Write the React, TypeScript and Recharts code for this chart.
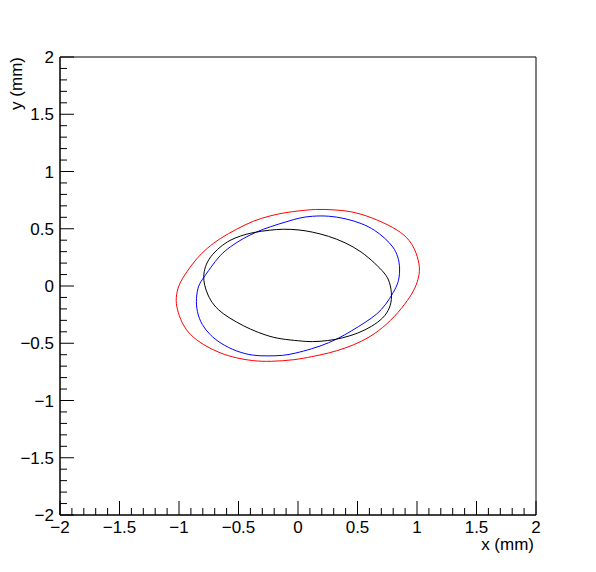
import React from 'react';
import { ComposedChart, Line, XAxis, YAxis, ReferenceArea } from 'recharts';

// ellipse contours, in mm (x, y)
const redEllipse: [number, number][] = [
  [-1.028, -0.107], [-1.006, 0.009], [-0.935, 0.125], [-0.851, 0.242], [-0.767, 0.329],
  [-0.655, 0.417], [-0.515, 0.498], [-0.376, 0.57], [-0.235, 0.614], [-0.095, 0.644],
  [0.003, 0.655], [0.143, 0.672], [0.311, 0.666], [0.479, 0.649], [0.675, 0.576],
  [0.843, 0.489], [0.941, 0.402], [0.997, 0.286], [1.025, 0.169], [1.017, 0.081],
  [0.985, -0.02], [0.927, -0.12], [0.815, -0.268], [0.675, -0.399], [0.535, -0.486],
  [0.395, -0.544], [0.255, -0.588], [0.115, -0.617], [-0.025, -0.646], [-0.235, -0.661],
  [-0.376, -0.655], [-0.515, -0.631], [-0.655, -0.588], [-0.796, -0.515], [-0.908, -0.428],
  [-0.977, -0.326], [-1.019, -0.195],
];

const blueEllipse: [number, number][] = [
  [-0.857, -0.107], [-0.838, 0.009], [-0.796, 0.067], [-0.739, 0.155], [-0.655, 0.271],
  [-0.571, 0.343], [-0.46, 0.417], [-0.347, 0.474], [-0.235, 0.518], [-0.095, 0.562],
  [0.017, 0.597], [0.115, 0.611], [0.255, 0.614], [0.395, 0.591], [0.535, 0.548],
  [0.647, 0.489], [0.731, 0.417], [0.801, 0.343], [0.843, 0.256], [0.857, 0.155],
  [0.851, 0.067], [0.829, -0.006], [0.773, -0.107], [0.703, -0.21], [0.619, -0.282],
  [0.507, -0.355], [0.395, -0.428], [0.255, -0.5], [0.115, -0.55], [-0.025, -0.588],
  [-0.124, -0.609], [-0.263, -0.611], [-0.376, -0.609], [-0.515, -0.574], [-0.655, -0.5],
  [-0.739, -0.428], [-0.809, -0.341], [-0.851, -0.224],
];

const blackEllipse: [number, number][] = [
  [-0.787, 0.009], [-0.796, 0.081], [-0.782, 0.169], [-0.739, 0.256], [-0.655, 0.343],
  [-0.571, 0.402], [-0.487, 0.437], [-0.376, 0.469], [-0.235, 0.489], [-0.124, 0.498],
  [0.003, 0.492], [0.115, 0.474], [0.255, 0.437], [0.395, 0.382], [0.535, 0.3],
  [0.647, 0.198], [0.731, 0.111], [0.773, 0.038], [0.792, -0.093], [0.773, -0.195],
  [0.717, -0.282], [0.619, -0.355], [0.507, -0.413], [0.367, -0.457], [0.255, -0.478],
  [0.115, -0.489], [0.017, -0.48], [-0.151, -0.463], [-0.263, -0.434], [-0.403, -0.378],
  [-0.515, -0.317], [-0.628, -0.247], [-0.712, -0.166], [-0.759, -0.079],
];

const axisRange = [-2, 2];
const majorStep = 0.5;
const minorStep = 0.1;

const FONT = '"Liberation Sans", Arial, sans-serif';
const FS = 17;

const toRows = (pts: [number, number][]) => pts.map(([x, y]) => ({ x, y }));

const ticks: number[] = [];
for (let v = axisRange[0]; v <= axisRange[1] + 1e-9; v += minorStep) ticks.push(Math.round(v * 10) / 10);

const isMajor = (v: number) => Math.abs(v / majorStep - Math.round(v / majorStep)) < 1e-6;
const fmt = (v: number) => (v < 0 ? '\u2212' + Math.abs(v) : String(v));

// ROOT style: ticks point into the frame, labels only on major ticks
function XTick({ x, payload }: any) {
  const v = payload.value;
  const major = isMajor(v);
  const y = 515;
  return (
    <g>
      <line x1={x} x2={x} y1={y} y2={y - (major ? 14 : 7)} stroke="#000" />
      {major && (
        <text x={x} y={y + 18} textAnchor="middle" fontSize={FS} fontFamily={FONT} fill="#000">
          {fmt(v)}
        </text>
      )}
    </g>
  );
}

function YTick({ y, payload }: any) {
  const v = payload.value;
  const major = isMajor(v);
  const x = 60;
  return (
    <g>
      <line x1={x} x2={x + (major ? 14 : 7)} y1={y} y2={y} stroke="#000" />
      {major && (
        <text x={x - 6} y={y + 6} textAnchor="end" fontSize={FS} fontFamily={FONT} fill="#000">
          {fmt(v)}
        </text>
      )}
    </g>
  );
}

export default function App() {
  return (
    <div style={{ position: 'absolute', left: 0, top: 0, width: 596, height: 572, background: '#fff' }}>
      <ComposedChart width={596} height={572} margin={{ top: 57, right: 60, bottom: 27, left: 30 }}>
        <XAxis
          type="number"
          dataKey="x"
          domain={axisRange}
          ticks={ticks}
          interval={0}
          allowDataOverflow
          height={30}
          tickSize={0}
          tickMargin={0}
          tickLine={false}
          axisLine={{ stroke: '#000' }}
          tick={(p: any) => <XTick {...p} />}
        />
        <YAxis
          type="number"
          dataKey="y"
          domain={axisRange}
          ticks={ticks}
          interval={0}
          allowDataOverflow
          width={30}
          tickSize={0}
          tickMargin={0}
          tickLine={false}
          axisLine={{ stroke: '#000' }}
          tick={(p: any) => <YTick {...p} />}
        />
        <ReferenceArea x1={-2} x2={2} y1={-2} y2={2} fill="none" stroke="#000" strokeWidth={1} />
        <Line data={toRows(redEllipse)} dataKey="y" type="basisClosed" stroke="#ff0000" strokeWidth={1} dot={false} isAnimationActive={false} />
        <Line data={toRows(blueEllipse)} dataKey="y" type="basisClosed" stroke="#0000ff" strokeWidth={1} dot={false} isAnimationActive={false} />
        <Line data={toRows(blackEllipse)} dataKey="y" type="basisClosed" stroke="#000000" strokeWidth={1} dot={false} isAnimationActive={false} />
      </ComposedChart>
      <svg width={596} height={572} style={{ position: 'absolute', left: 0, top: 0, pointerEvents: 'none' }}>
        <text x={534} y={550} textAnchor="end" fontSize={FS} fontFamily={FONT} fill="#000">x (mm)</text>
        <text x={22} y={57} textAnchor="end" fontSize={FS} fontFamily={FONT} fill="#000" transform="rotate(-90 22 57)">y (mm)</text>
      </svg>
    </div>
  );
}
